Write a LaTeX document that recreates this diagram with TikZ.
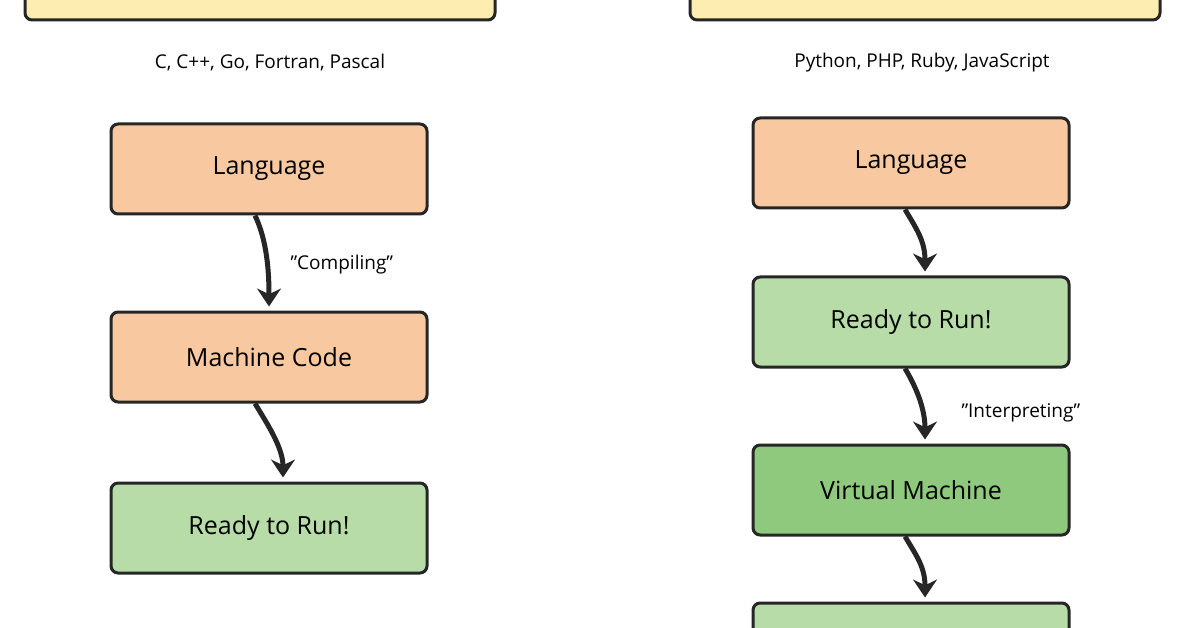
\documentclass[tikz,border=0pt]{standalone}
\usepackage{fontspec}
\setmainfont{Open Sans}
\usetikzlibrary{calc,arrows.meta}
\definecolor{boxorange}{HTML}{F8C9A0}
\definecolor{boxgreen}{HTML}{B8DCA8}
\definecolor{boxdkgreen}{HTML}{8FC97E}
\definecolor{boxyellow}{HTML}{FDEDB0}
\begin{document}
\begin{tikzpicture}[x=1pt, y=-1pt,
    box/.style={rectangle, draw=black!85, line width=3pt, rounded corners=2.5mm,
        minimum width=316pt, minimum height=90pt, font=\fontsize{25}{28}\selectfont},
    topbox/.style={box, fill=boxyellow, minimum width=470pt, minimum height=100pt},
    lang/.style={box, fill=boxorange},
    run/.style={box, fill=boxgreen},
    vm/.style={box, fill=boxdkgreen},
    flow/.style={draw=black!85, line width=5pt, -{Stealth[length=18pt, width=24pt]}},
    note/.style={font=\fontsize{19}{22}\selectfont}
]
\useasboundingbox (0,0) rectangle (1196,628);
\clip (0,0) rectangle (1196,628);

% left column
\node (CompTop) [topbox] at (260,-30) {};
\node (CompList) [note] at (270,63) {C, C++, Go, Fortran, Pascal};
\node (CompLang) [lang] at (269,169) {Language};
\node (CompCode) [lang] at (269,357) {Machine Code};
\node (CompRun) [run] at (269,528) {Ready to Run!};

% right column
\node (IntTop) [topbox] at (925,-30) {};
\node (IntList) [note] at (922,63) {Python, PHP, Ruby, JavaScript};
\node (IntLang) [lang] at (911,163) {Language};
\node (IntRun) [run] at (911,322) {Ready to Run!};
\node (IntVM) [vm] at (911,490) {Virtual Machine};
\node (IntNext) [run] at (911,648) {};

% arrows
\draw[flow] ($(CompLang.south)+(-14,0)$) .. controls +(12,25) and +(0,-35) .. ($(CompCode.north)+(0,-4)$);
\node [note, anchor=west] at (287,265) {"Compiling"};
\draw[flow] ($(CompCode.south)+(-14,0)$) .. controls +(12,20) and +(0,-30) .. ($(CompRun.north)+(14,-4)$);
\draw[flow] ($(IntLang.south)+(-6,0)$) .. controls +(12,20) and +(0,-30) .. ($(IntRun.north)+(14,-4)$);
\draw[flow] ($(IntRun.south)+(-6,0)$) .. controls +(12,20) and +(0,-30) .. ($(IntVM.north)+(14,-4)$);
\node [note, anchor=west] at (958,413) {"Interpreting"};
\draw[flow] ($(IntVM.south)+(-6,0)$) .. controls +(12,20) and +(0,-30) .. ($(IntNext.north)+(14,-4)$);
\end{tikzpicture}
\end{document}
